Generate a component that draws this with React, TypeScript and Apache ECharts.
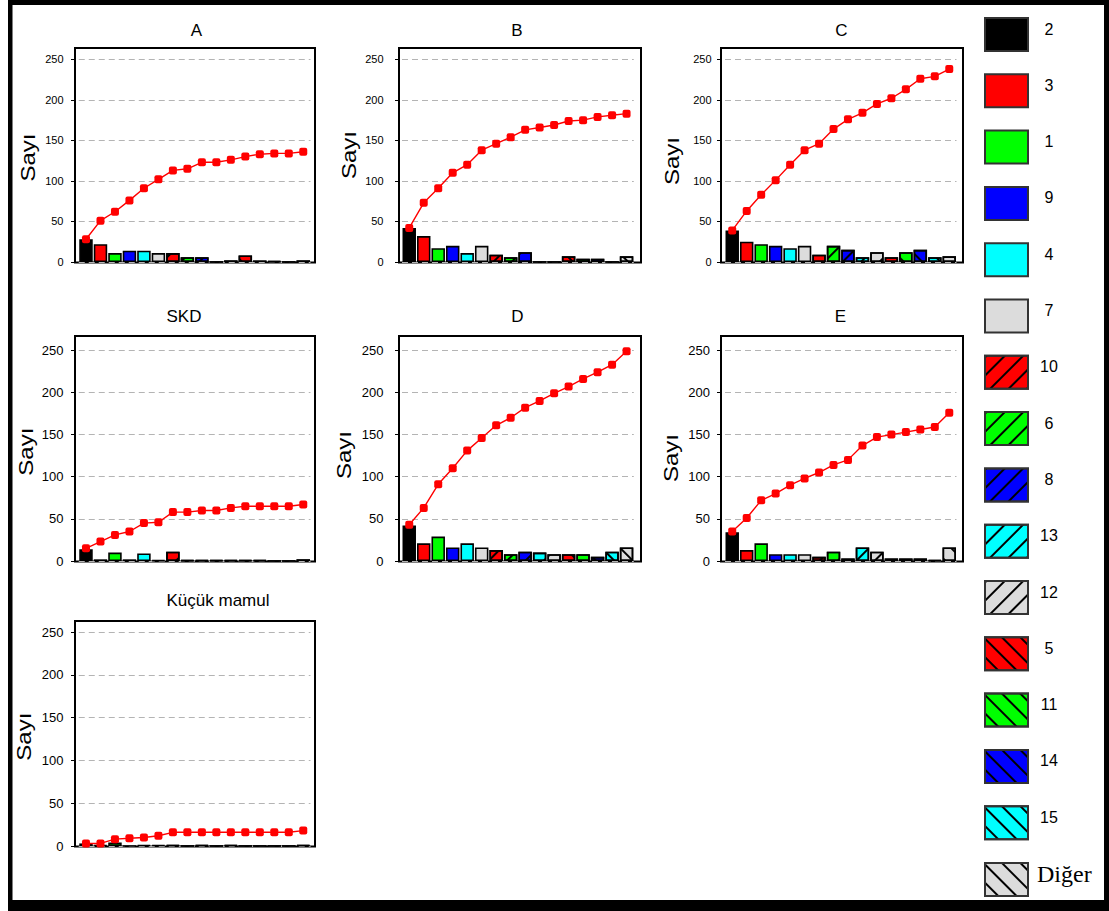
import React, { useEffect, useRef } from 'react';
import * as echarts from 'echarts';

// ---------- data ----------
const categories = ['2', '3', '1', '9', '4', '7', '10', '6', '8', '13', '12', '5', '11', '14', '15', 'Diğer'];
const yTicks = [0, 50, 100, 150, 200, 250];

const barsA = [28, 22, 11, 14, 14, 11, 11, 6, 6, 0, 2, 8, 2, 1, 0, 2];
const cumA = [28, 51, 62, 76, 91, 102, 113, 115, 123, 123, 126, 130, 133, 134, 134, 136];

const barsB = [42, 32, 17, 20, 11, 20, 9, 6, 12, 0, 0, 7, 4, 4, 0, 7];
const cumB = [42, 73, 91, 110, 120, 138, 146, 154, 163, 166, 169, 174, 175, 179, 181, 183];

const barsC = [39, 25, 22, 20, 17, 20, 9, 20, 15, 6, 12, 6, 12, 15, 6, 7];
const cumC = [39, 63, 83, 101, 120, 138, 146, 164, 176, 184, 195, 202, 213, 226, 229, 238];

const barsSKD = [14, 2, 10, 2, 9, 1, 11, 1, 1, 1, 1, 1, 1, 0, 0, 2];
const cumSKD = [15, 23, 31, 35, 45, 46, 58, 58, 60, 60, 63, 65, 65, 65, 65, 67];

const barsD = [42, 21, 29, 16, 21, 16, 13, 8, 11, 10, 8, 8, 8, 5, 11, 16];
const cumD = [43, 63, 91, 110, 131, 146, 161, 170, 182, 190, 199, 207, 216, 224, 233, 249];

const barsE = [34, 13, 21, 8, 8, 8, 5, 11, 3, 16, 11, 3, 3, 3, 1, 16];
const cumE = [35, 51, 72, 80, 90, 98, 105, 114, 120, 137, 147, 150, 153, 156, 159, 176];

const barsK = [3, 1, 4, 0, 1, 1, 1, 0, 1, 0, 1, 0, 0, 0, 0, 1];
const cumK = [3, 3, 8, 9, 10, 12, 16, 16, 16, 16, 16, 16, 16, 16, 16, 18];

// ---------- styles ----------
const fillColors = [
  '#000000', '#ff0000', '#00ff00', '#0000ff', '#00ffff', '#dcdcdc',
  '#ff0000', '#00ff00', '#0000ff', '#00ffff', '#dcdcdc',
  '#ff0000', '#00ff00', '#0000ff', '#00ffff', '#dcdcdc',
];
const hatchKinds = [
  'none', 'none', 'none', 'none', 'none', 'none',
  'fwd', 'fwd', 'fwd', 'fwd', 'fwd',
  'back', 'back', 'back', 'back', 'back',
];

const decalFor = (kind: string): any => {
  if (kind === 'none') return undefined;
  return {
    symbol: 'rect',
    symbolSize: 1,
    color: '#000000',
    dashArrayX: [1, 0],
    dashArrayY: [1.3, 11],
    rotation: kind === 'fwd' ? -Math.PI / 4 : Math.PI / 4,
  };
};

// ---------- layout ----------
const cols = [
  { boxL: 75, boxR: 315, gridL: 78.75, gridW: 231.75 },
  { boxL: 399, boxR: 641, gridL: 402, gridW: 231.8 },
  { boxL: 721, boxR: 963, gridL: 725, gridW: 231.5 },
];
const rows = [
  { top: 48, bottom: 262, yMax: 264, titleY: 30, fontSize: 11 },
  { top: 336, bottom: 561, yMax: 267, titleY: 316, fontSize: 13 },
  { top: 621, bottom: 846, yMax: 263, titleY: 600, fontSize: 13 },
];

const panels = [
  { title: 'A', bars: barsA, cum: cumA, col: 0, row: 0, titleX: 196.5, nameX: 28, nameY: 157.5, margin: 11.5 },
  { title: 'B', bars: barsB, cum: cumB, col: 1, row: 0, titleX: 517, nameX: 349, nameY: 155, margin: 15.5 },
  { title: 'C', bars: barsC, cum: cumC, col: 2, row: 0, titleX: 841.5, nameX: 672.5, nameY: 161, margin: 9.5 },
  { title: 'SKD', bars: barsSKD, cum: cumSKD, col: 0, row: 1, titleX: 184, nameX: 26, nameY: 451.7, margin: 11.5 },
  { title: 'D', bars: barsD, cum: cumD, col: 1, row: 1, titleX: 517.5, nameX: 344, nameY: 455, margin: 15.5 },
  { title: 'E', bars: barsE, cum: cumE, col: 2, row: 1, titleX: 840.5, nameX: 671, nameY: 458, margin: 11 },
  { title: 'Küçük mamul', bars: barsK, cum: cumK, col: 0, row: 2, titleX: 218, nameX: 24, nameY: 736.7, margin: 11.5 },
];

function buildOption(): any {
  const grid: any[] = [];
  const xAxis: any[] = [];
  const yAxis: any[] = [];
  const series: any[] = [];
  const elements: any[] = [];

  panels.forEach((p, k) => {
    const c = cols[p.col];
    const r = rows[p.row];
    grid.push({ left: c.gridL, top: r.top, width: c.gridW, height: r.bottom - r.top, show: false });
    xAxis.push({ gridIndex: k, type: 'category', data: categories, show: false, boundaryGap: true });
    yAxis.push({
      gridIndex: k,
      type: 'value',
      min: 0,
      max: r.yMax,
      interval: 50,
      offset: c.gridL - c.boxL,
      axisLine: { show: false },
      axisTick: { show: true, length: 4, lineStyle: { color: '#000', width: 1 }, customValues: yTicks },
      axisLabel: {
        fontSize: r.fontSize,
        color: '#000',
        fontFamily: 'Liberation Sans',
        margin: p.margin,
        customValues: yTicks,
      },
      splitLine: { show: true, lineStyle: { color: '#b4b4b4', type: [6, 4], width: 1 } },
    });
    series.push({
      type: 'bar',
      name: 'bars-' + p.title,
      xAxisIndex: k,
      yAxisIndex: k,
      barCategoryGap: '7%',
      itemStyle: { borderColor: '#000', borderWidth: 1.6 },
      data: p.bars.map((v, i) => ({
        value: v,
        itemStyle: { color: fillColors[i], decal: decalFor(hatchKinds[i]) },
      })),
      z: 2,
    });
    series.push({
      type: 'line',
      name: 'cum-' + p.title,
      xAxisIndex: k,
      yAxisIndex: k,
      data: p.cum,
      symbol: 'roundRect',
      symbolSize: 8,
      lineStyle: { color: '#ff0000', width: 1.4 },
      itemStyle: { color: '#ff0000' },
      z: 5,
    });

    elements.push({
      type: 'rect',
      z: -10,
      shape: { x: c.boxL, y: r.top, width: c.boxR - c.boxL, height: r.bottom - r.top + 0.5 },
      style: { fill: '#ffffff', stroke: '#000000', lineWidth: 2 },
    });
    elements.push({
      type: 'text',
      x: p.titleX,
      y: r.titleY,
      style: {
        text: p.title,
        font: '17px "Liberation Sans"',
        fill: '#000',
        textAlign: 'center',
        textVerticalAlign: 'middle',
      },
    });
    elements.push({
      type: 'text',
      x: p.nameX,
      y: p.nameY,
      rotation: Math.PI / 2,
      scaleX: 1.2,
      style: {
        text: 'Sayı',
        font: '20px "Liberation Sans"',
        fill: '#000',
        textAlign: 'center',
        textVerticalAlign: 'middle',
      },
    });
  });

  // hidden grid that carries the legend series
  const hidden = panels.length;
  grid.push({ left: -200, top: -200, width: 10, height: 10, show: false });
  xAxis.push({ gridIndex: hidden, type: 'category', data: categories, show: false });
  yAxis.push({ gridIndex: hidden, type: 'value', show: false });
  categories.forEach((name, i) => {
    series.push({
      type: 'bar',
      name,
      xAxisIndex: hidden,
      yAxisIndex: hidden,
      data: [],
      itemStyle: { color: fillColors[i], decal: decalFor(hatchKinds[i]), borderColor: '#333', borderWidth: 2 },
    });
  });

  // outer frame
  elements.push({ type: 'rect', z: 100, shape: { x: 8, y: 0, width: 4.5, height: 911 }, style: { fill: '#000' } });
  elements.push({ type: 'rect', z: 100, shape: { x: 8, y: 0, width: 1101, height: 5 }, style: { fill: '#000' } });
  elements.push({ type: 'rect', z: 100, shape: { x: 1104, y: 0, width: 5, height: 911 }, style: { fill: '#000' } });
  elements.push({ type: 'rect', z: 100, shape: { x: 8, y: 900, width: 1101, height: 11 }, style: { fill: '#000' } });

  return {
    animation: false,
    backgroundColor: '#ffffff',
    grid,
    xAxis,
    yAxis,
    series,
    legend: {
      data: categories,
      orient: 'vertical',
      left: 984,
      top: 17,
      height: 890,
      itemWidth: 43,
      itemHeight: 33,
      itemGap: 21.3,
      icon: 'rect',
      selectedMode: false,
      padding: 0,
      itemStyle: { borderColor: '#333', borderWidth: 2 },
      textStyle: {
        color: '#000',
        rich: {
          n: { fontSize: 16, lineHeight: 16, fontFamily: 'Liberation Sans', width: 32, align: 'center', padding: [0, 0, 11, 0], color: '#000' },
          d: { fontSize: 24, lineHeight: 20, fontFamily: 'Liberation Serif', padding: [0, 0, 12, 4], color: '#000' },
        },
      },
      formatter: (name: string) => (name === 'Diğer' ? `{d|${name}}` : `{n|${name}}`),
    },
    graphic: { elements },
  };
}

export default function App() {
  const ref = useRef<HTMLDivElement>(null);
  useEffect(() => {
    if (!ref.current) return;
    const chart = echarts.init(ref.current, null, { renderer: 'svg' });
    chart.setOption(buildOption());
    return () => chart.dispose();
  }, []);
  return (
    <div
      ref={ref}
      style={{ position: 'fixed', left: 0, top: 0, width: 1109, height: 911, background: '#fff' }}
    />
  );
}
